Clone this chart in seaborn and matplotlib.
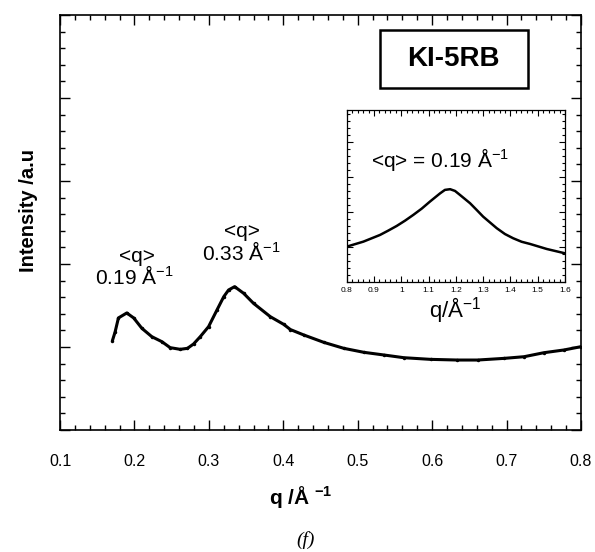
import numpy as np
import pandas as pd
import matplotlib
matplotlib.use("Agg")
import matplotlib.pyplot as plt
from matplotlib.ticker import MultipleLocator, NullFormatter
from matplotlib.patches import Rectangle
import seaborn as sns

# ---- data ----
q_main = [0.1704, 0.174, 0.1785, 0.1897, 0.199, 0.210, 0.2234, 0.2369, 0.248,
          0.2615, 0.2713, 0.2794, 0.2884, 0.2996, 0.3109, 0.320, 0.3265, 0.3346,
          0.3467, 0.360, 0.3826, 0.4005, 0.4096, 0.4275, 0.4544, 0.4813, 0.5082,
          0.535, 0.562, 0.598, 0.634, 0.661, 0.6966, 0.7235, 0.750, 0.777, 0.800]
I_main = [1.076, 1.18, 1.35, 1.41, 1.35, 1.225, 1.124, 1.064, 0.992,
          0.972, 0.984, 1.036, 1.124, 1.245, 1.446, 1.606, 1.687, 1.727,
          1.647, 1.526, 1.365, 1.273, 1.21, 1.145, 1.056, 0.984, 0.936,
          0.904, 0.871, 0.851, 0.843, 0.843, 0.863, 0.883, 0.931, 0.964, 1.004]

q_inset = [0.80, 0.861, 0.922, 0.952, 0.983, 1.014, 1.044, 1.075, 1.105, 1.142,
           1.16, 1.179, 1.197, 1.215, 1.252, 1.276, 1.30, 1.35, 1.38, 1.41,
           1.441, 1.472, 1.533, 1.60]
I_inset = [1.00, 1.143, 1.334, 1.457, 1.59, 1.743, 1.906, 2.086, 2.286, 2.52,
           2.62, 2.64, 2.59, 2.477, 2.24, 2.05, 1.857, 1.526, 1.36, 1.24,
           1.14, 1.077, 0.934, 0.81]

main_xticks = [0.1, 0.2, 0.3, 0.4, 0.5, 0.6, 0.7, 0.8]
inset_xticks = [0.8, 0.9, 1.0, 1.1, 1.2, 1.3, 1.4, 1.5, 1.6]
inset_xticklabels = ["0.8", "0.9", "1", "1.1", "1.2", "1.3", "1.4", "1.5", "1.6"]

sns.set_style("ticks", rc={"axes.edgecolor": "black", "text.color": "black",
                           "xtick.color": "black", "ytick.color": "black",
                           "axes.labelcolor": "black"})
plt.rcParams["font.family"] = ["Liberation Sans", "DejaVu Sans"]
plt.rcParams["mathtext.fontset"] = "custom"
plt.rcParams["mathtext.rm"] = "Liberation Sans"
plt.rcParams["mathtext.bf"] = "Liberation Sans:bold"
plt.rcParams["mathtext.it"] = "Liberation Sans:italic"

W, H = 595, 552
fig = plt.figure(figsize=(W / 100, H / 100), dpi=100)

def rect(x0, y0, x1, y1):
    return [x0 / W, 1 - y1 / H, (x1 - x0) / W, (y1 - y0) / H]

ax = fig.add_axes(rect(60, 15, 581, 430))
df_main = pd.DataFrame({"q": q_main, "I": I_main})
sns.lineplot(data=df_main, x="q", y="I", ax=ax, color="black", lw=2.2,
             marker="o", markersize=2.5, markeredgewidth=0)
ax.set_xlim(0.1, 0.8)
ax.set_ylim(0, 5)
ax.set_xticks(main_xticks)
ax.set_xticklabels([f"{v:.1f}" for v in main_xticks], fontsize=11.5)
ax.xaxis.set_minor_locator(MultipleLocator(0.02))
ax.yaxis.set_major_locator(MultipleLocator(1))
ax.yaxis.set_minor_locator(MultipleLocator(0.2))
ax.yaxis.set_major_formatter(NullFormatter())
ax.tick_params(which="both", direction="in", top=True, right=True, width=1.0)
ax.tick_params(which="major", length=7)
ax.tick_params(which="minor", length=3.5)
ax.tick_params(axis="x", pad=17)
ax.set_xlabel("")
ax.set_ylabel("")
for s in ax.spines.values():
    s.set_linewidth(1.2)

# annotations
ax.text(0.2036, 2.02, "<q>", fontsize=15, ha="center", va="baseline")
ax.text(0.1996, 1.76, r"0.19 Å$^{-1}$", fontsize=15, ha="center", va="baseline")
ax.text(0.3445, 2.33, "<q>", fontsize=15, ha="center", va="baseline")
ax.text(0.3433, 2.05, r"0.33 Å$^{-1}$", fontsize=15, ha="center", va="baseline")

# axis titles
fig.text(28 / W, 1 - 210 / H, "Intensity /a.u", rotation=90, fontsize=14.5,
         fontweight="bold", ha="center", va="center")
fig.text(301 / W, 1 - 497 / H, r"q /Å $^{\mathbf{-1}}$", fontsize=15,
         fontweight="bold", ha="center", va="center")
fig.text(306 / W, 1 - 540 / H, "(f)", fontsize=14, fontstyle="italic",
         family=["Liberation Serif", "DejaVu Serif"], ha="center", va="center")

# KI-5RB box
fig.patches.append(Rectangle((379.5 / W, 1 - 87.5 / H), (527.5 - 379.5) / W,
                             (87.5 - 30) / H, transform=fig.transFigure,
                             fc="white", ec="black", lw=1.8, zorder=5))
fig.text(453.5 / W, 1 - 59 / H, "KI-5RB", fontsize=20, fontweight="bold",
         ha="center", va="center", zorder=6)

# inset
axi = fig.add_axes(rect(346.7, 110, 565, 281.7))
df_in = pd.DataFrame({"q": q_inset, "I": I_inset})
sns.lineplot(data=df_in, x="q", y="I", ax=axi, color="black", lw=1.8)
axi.set_xlim(0.8, 1.6)
axi.set_ylim(0, 4.9)
axi.set_xticks(inset_xticks)
axi.set_xticklabels(inset_xticklabels, fontsize=6)
axi.xaxis.set_minor_locator(MultipleLocator(0.02))
axi.yaxis.set_major_locator(MultipleLocator(1))
axi.yaxis.set_minor_locator(MultipleLocator(0.2))
axi.yaxis.set_major_formatter(NullFormatter())
axi.tick_params(which="both", direction="in", top=True, right=True, width=0.8)
axi.tick_params(which="major", length=4)
axi.tick_params(which="minor", length=2)
axi.tick_params(axis="x", pad=4)
axi.set_xlabel("")
axi.set_ylabel("")
for s in axi.spines.values():
    s.set_linewidth(0.9)
fig.text(440 / W, 1 - 167 / H, r"<q> = 0.19 Å$^{-1}$", fontsize=15,
         ha="center", va="baseline")
fig.text(455 / W, 1 - 318 / H, r"q/Å$^{-1}$", fontsize=16,
         ha="center", va="baseline")

fig.savefig("out.png", dpi=100)
